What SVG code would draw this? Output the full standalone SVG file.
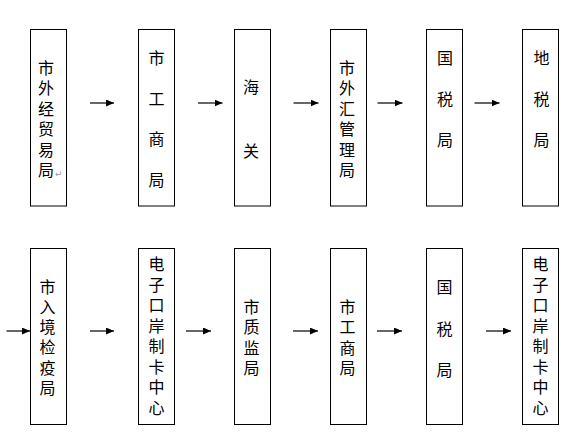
<svg xmlns="http://www.w3.org/2000/svg" width="577" height="439" viewBox="0 0 577 439">
<style>
.box{fill:#fff;stroke:#000;stroke-width:1}
.t{font-family:"Noto Sans CJK SC","Noto Sans",sans-serif;font-size:16px;fill:#000;writing-mode:vertical-rl;text-anchor:start}
.ln{stroke:#000;stroke-width:1.2;fill:none;marker-end:url(#ah)}
.pm{font-family:"DejaVu Sans",sans-serif;font-size:9px;fill:#999}
</style>
<defs>
<marker id="ah" markerUnits="userSpaceOnUse" markerWidth="9" markerHeight="8" refX="8" refY="3.5" orient="auto">
<path d="M0,0 L8,3.5 L0,7 z" fill="#000"/>
</marker>
</defs>
<rect width="577" height="439" fill="#fff"/>
<g id="connectors">
<line class="ln" x1="90" y1="103" x2="114" y2="103"/>
<line class="ln" x1="198" y1="103" x2="222.5" y2="103"/>
<line class="ln" x1="293.5" y1="103" x2="318.5" y2="103"/>
<line class="ln" x1="377.5" y1="103" x2="402.5" y2="103"/>
<line class="ln" x1="474.5" y1="103" x2="499.5" y2="103"/>
<line class="ln" x1="6.5" y1="331" x2="30" y2="331"/>
<line class="ln" x1="90" y1="331" x2="114" y2="331"/>
<line class="ln" x1="186" y1="331" x2="211" y2="331"/>
<line class="ln" x1="293" y1="331" x2="318" y2="331"/>
<line class="ln" x1="377" y1="331" x2="402" y2="331"/>
<line class="ln" x1="486" y1="331" x2="511" y2="331"/>
</g>
<g id="n1">
<rect class="box" x="30.5" y="29.5" width="36" height="176.5"/>
<text class="t" x="46" y="59.5" letter-spacing="4.5">市外经贸易局</text>
<text class="pm" x="55" y="177">↵</text>
</g>
<g id="n2">
<rect class="box" x="138.5" y="29.5" width="36" height="176.5"/>
<text class="t" x="156.5" y="50" letter-spacing="24.5">市工商局</text>
</g>
<g id="n3">
<rect class="box" x="234.5" y="29.5" width="36" height="176.5"/>
<text class="t" x="251" y="79" letter-spacing="47.5">海关</text>
</g>
<g id="n4">
<rect class="box" x="330.5" y="29.5" width="36" height="176.5"/>
<text class="t" x="347" y="59.5" letter-spacing="4.5">市外汇管理局</text>
</g>
<g id="n5">
<rect class="box" x="426.5" y="29.5" width="36" height="176.5"/>
<text class="t" x="445" y="50" letter-spacing="25">国税局</text>
</g>
<g id="n6">
<rect class="box" x="522.5" y="29.5" width="36" height="176.5"/>
<text class="t" x="541.5" y="49.5" letter-spacing="25.2">地税局</text>
</g>
<g id="n7">
<rect class="box" x="30.5" y="248.5" width="36" height="176"/>
<text class="t" x="47.5" y="278.5" letter-spacing="4.3">市入境检疫局</text>
</g>
<g id="n8">
<rect class="box" x="138.5" y="248.5" width="36" height="176"/>
<text class="t" x="156.5" y="256" letter-spacing="4.5">电子口岸制卡中心</text>
</g>
<g id="n9">
<rect class="box" x="234.5" y="248.5" width="36" height="176"/>
<text class="t" x="251.5" y="298.5" letter-spacing="4.5">市质监局</text>
</g>
<g id="n10">
<rect class="box" x="330.5" y="248.5" width="36" height="176"/>
<text class="t" x="347.5" y="298.5" letter-spacing="4.5">市工商局</text>
</g>
<g id="n11">
<rect class="box" x="426.5" y="248.5" width="36" height="176"/>
<text class="t" x="444.5" y="279" letter-spacing="25.5">国税局</text>
</g>
<g id="n12">
<rect class="box" x="522.5" y="248.5" width="36" height="176"/>
<text class="t" x="540.5" y="256" letter-spacing="4.5">电子口岸制卡中心</text>
</g>
</svg>
